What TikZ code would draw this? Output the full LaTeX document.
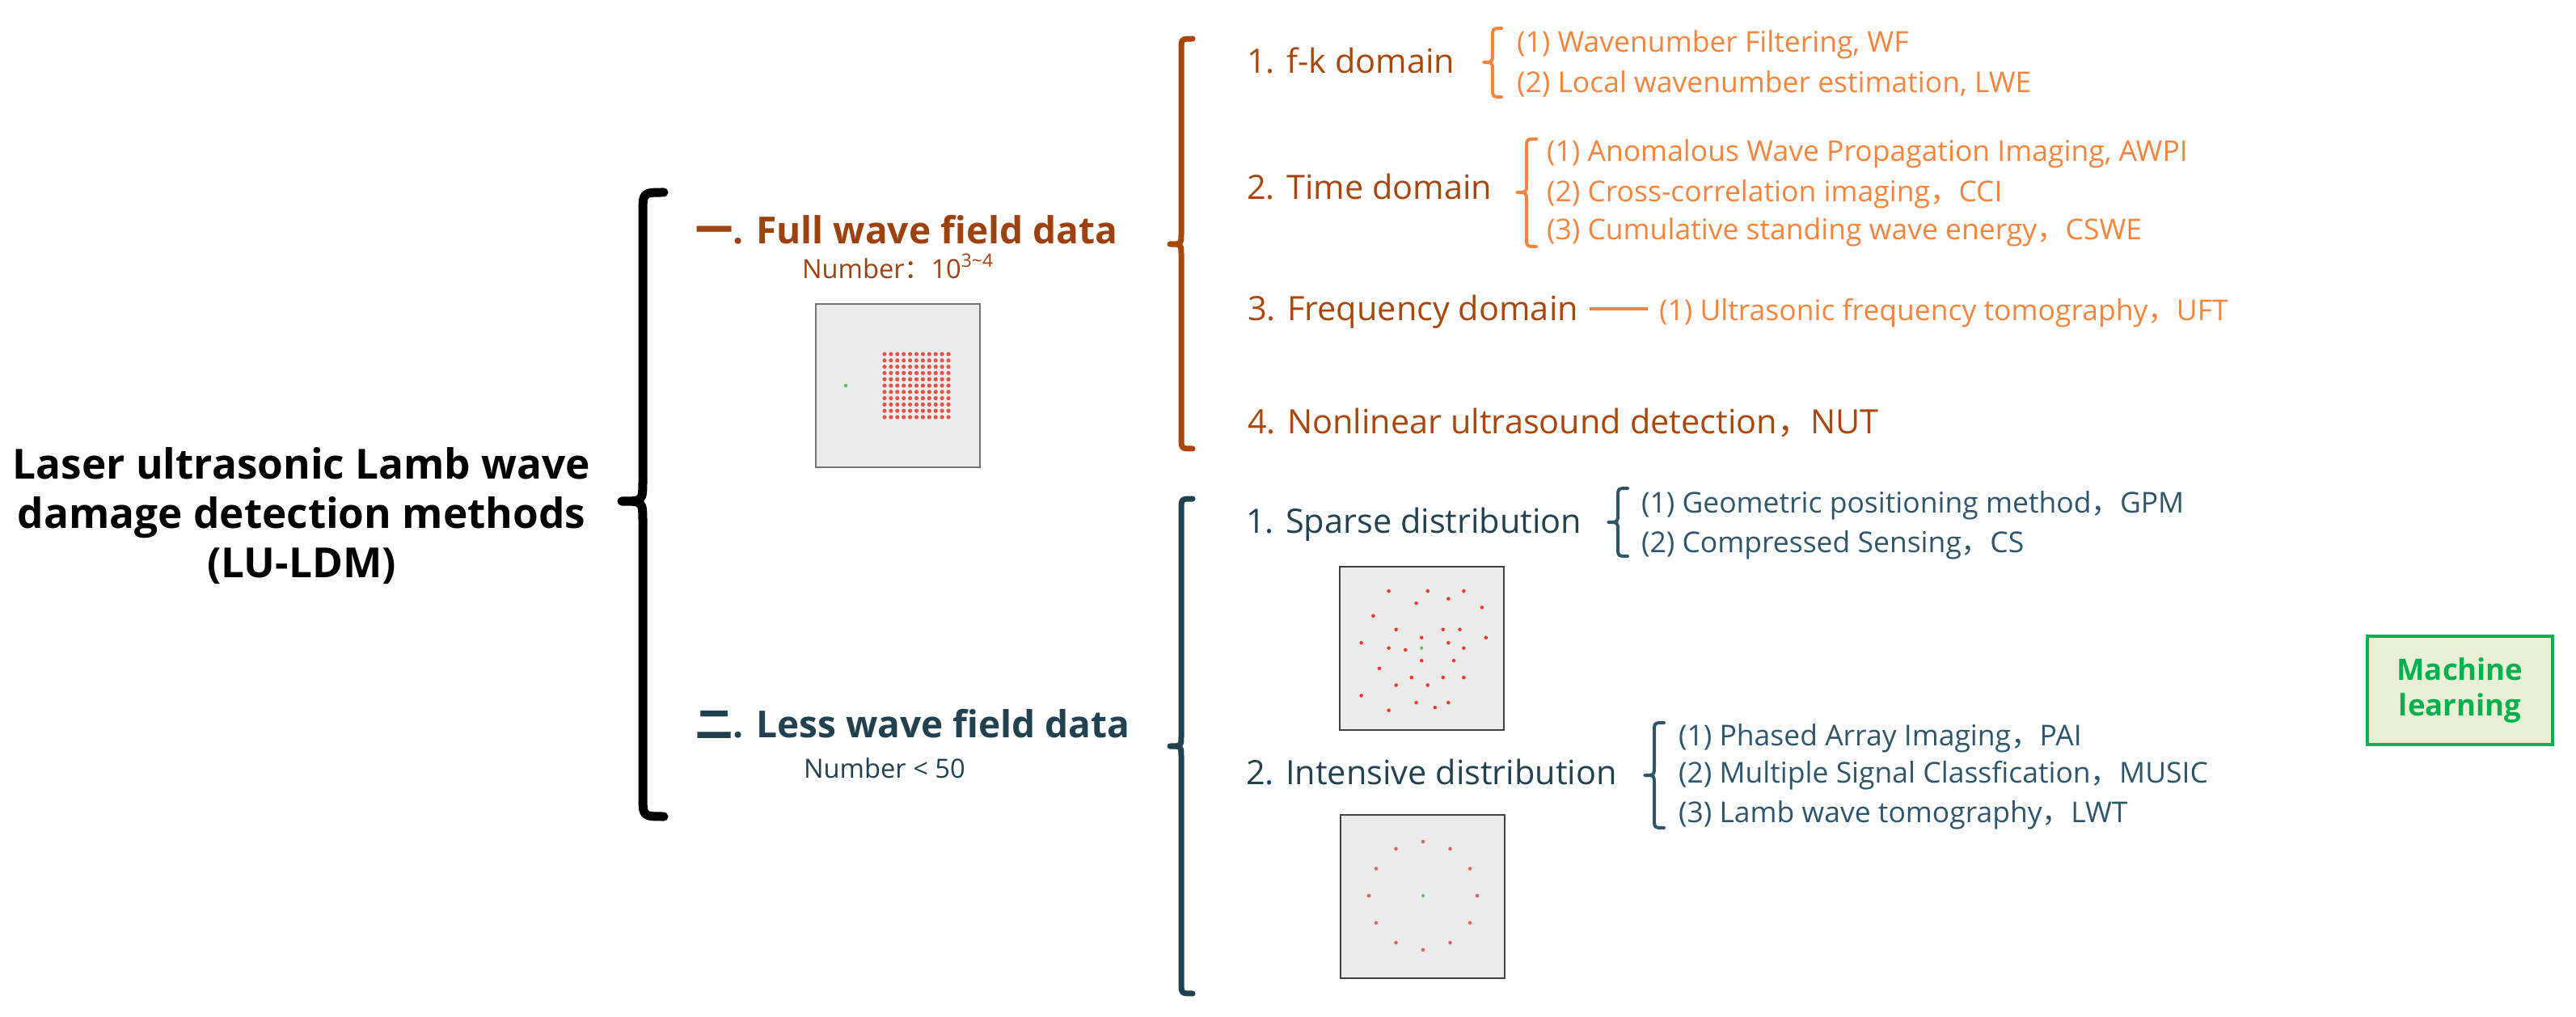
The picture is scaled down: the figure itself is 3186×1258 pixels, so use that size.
\documentclass[tikz,border=0pt]{standalone}
\usepackage{fontspec}
\setmainfont{Open Sans}
\newfontfamily\cjk{Noto Sans CJK SC}
\definecolor{brownT}{HTML}{9C4211}
\definecolor{brownM}{HTML}{A8470C}
\definecolor{orangeL}{HTML}{F4843E}
\definecolor{slateT}{HTML}{22414F}
\definecolor{slateL}{HTML}{2F5568}
\definecolor{mlgreen}{HTML}{00B050}
\definecolor{mlfill}{HTML}{E9F0D4}
\definecolor{imgfill}{HTML}{EBEBEB}
\definecolor{dotred}{HTML}{E8524A}
\definecolor{sparsered}{HTML}{EE3B2C}
\definecolor{ringred}{HTML}{E4605A}
\definecolor{dotgreen}{HTML}{4CC552}
\newcommand\LUbrace[6]{%
  \draw[#1] ({#2+#6},#3) .. controls (#2,#3) .. (#2,{#3+#6}) -- (#2,{#5-#6})
    .. controls (#2,#5) .. ({#2-#6},#5) .. controls (#2,#5) .. (#2,{#5+#6})
    -- (#2,{#4-#6}) .. controls (#2,#4) .. ({#2+#6},#4);}
\begin{document}
\begin{tikzpicture}[x=0.1mm,y=-0.1mm,
  txt/.style={inner sep=0pt, outer sep=0pt, anchor=base west},
  maintitle/.style={txt, anchor=base, font=\fontsize{14.6}{18}\selectfont\bfseries},
  lvlA/.style={txt, font=\fontsize{13.1}{16}\selectfont\bfseries},
  lvlB/.style={txt, font=\fontsize{11.8}{14}\selectfont},
  leaf/.style={txt, font=\fontsize{10.1}{12}\selectfont},
  numtxt/.style={txt, font=\fontsize{9.3}{11}\selectfont},
  bigbrace/.style={line width=1.1mm, line cap=round, line join=round},
  midbrace/.style={line width=0.7mm, line cap=round, line join=round},
  smallbrace/.style={line width=0.4mm, line cap=round, line join=round},
  dashline/.style={orangeL, line width=0.35mm},
  imgbox/.style={draw=#1, fill=imgfill, line width=0.25mm, inner sep=0pt},
  mlbox/.style={draw=mlgreen, fill=mlfill, line width=0.35mm, text=mlgreen,
     align=center, minimum width=22.9mm, minimum height=13.4mm,
     font=\fontsize{10.4}{12.5}\selectfont\bfseries}
]
\useasboundingbox (0,0) rectangle (3186,1258);

% main title
\node[maintitle] (m1) at (373,593) {Laser ultrasonic Lamb wave};
\node[maintitle] (m2) at (373,654) {damage detection methods};
\node[maintitle] (m3) at (373,714) {(LU-LDM)};
\LUbrace{bigbrace,black}{795}{238}{1010}{620}{26}

% level 1
\node[lvlA, text=brownT] (full) at (860,302) {{\cjk 一}. Full wave field data};
\node[numtxt, text=brownT] (n1) at (992,345) {Number{\cjk ：}10\raisebox{0.85ex}{\fontsize{6.5}{7}\selectfont 3\textasciitilde 4}};
\node[lvlA, text=slateT] (less) at (860,912) {{\cjk 二}. Less wave field data};
\node[numtxt, text=slateT] (n2) at (994,962) {Number < 50};

% image 1: full grid
\node[imgbox={black!55}, minimum width=20.3mm, minimum height=20.2mm] (img1) at (1110.5,477) {};
\foreach \i in {0,...,10}
  \foreach \j in {0,...,10}
    \fill[dotred] ({1094+\i*7.9},{438+\j*7.8}) circle (0.26mm);
\fill[dotgreen] (1046,477) circle (0.22mm);

% brace for full wave field
\LUbrace{midbrace,brownM}{1461}{48}{555}{302}{14}

\node[lvlB, text=brownM] (fk) at (1542,91) {1. f-k domain};
\LUbrace{smallbrace,orangeL}{1846}{35}{120}{77}{11}
\node[leaf, text=orangeL] (wf) at (1876,65) {(1) Wavenumber Filtering, WF};
\node[leaf, text=orangeL] (lwe) at (1876,115) {(2) Local wavenumber estimation, LWE};

\node[lvlB, text=brownM] (td) at (1542,247) {2. Time domain};
\LUbrace{smallbrace,orangeL}{1888}{172}{305}{238}{12}
\node[leaf, text=orangeL] (awpi) at (1913,200) {(1) Anomalous Wave Propagation Imaging, AWPI};
\node[leaf, text=orangeL] (cci) at (1913,250) {(2) Cross-correlation imaging{\cjk ，}CCI};
\node[leaf, text=orangeL] (cswe) at (1913,297) {(3) Cumulative standing wave energy{\cjk ，}CSWE};

\node[lvlB, text=brownM] (fd) at (1543,397) {3. Frequency domain};
\node[leaf, text=orangeL] (uft) at (2052,397) {(1) Ultrasonic frequency tomography{\cjk ，}UFT};
\draw[dashline] ([shift={(14,-15)}]fd.base east) -- ([shift={(-14,-15)}]uft.base west);

\node[lvlB, text=brownM] (nut) at (1543,537) {4. Nonlinear ultrasound detection{\cjk ，}NUT};

% brace for less wave field
\LUbrace{midbrace,slateT}{1461}{617}{1229}{923}{14}

\node[lvlB, text=slateT] (sd) at (1541,660) {1. Sparse distribution};
\LUbrace{smallbrace,slateL}{2001}{604}{688}{646}{12}
\node[leaf, text=slateL] (gpm) at (2030,634) {(1) Geometric positioning method{\cjk ，}GPM};
\node[leaf, text=slateL] (cs) at (2030,684) {(2) Compressed Sensing{\cjk ，}CS};

% image 2: sparse
\node[imgbox={black!75}, minimum width=20.3mm, minimum height=20.2mm] (img2) at (1758.5,802) {};
\foreach \p in {(1717.6,731.1),(1765.7,731.1),(1810.4,731.1),(1751.6,746.2),(1791.4,740.6),
  (1832.8,751.4),(1698.5,761.8),(1726.7,778.7),(1784.7,778.7),(1805.5,778.7),(1758.2,788.7),
  (1837.8,788.7),(1683.6,795.2),(1791.4,795.2),(1717.6,801.6),(1738.3,803.8),(1810.4,801.6),
  (1758.2,817.2),(1798.0,817.2),(1706.0,826.8),(1745.8,838.0),(1784.7,838.0),(1810.4,838.0),
  (1726.7,847.5),(1765.7,847.5),(1683.6,860.5),(1751.6,869.2),(1774.8,875.2),(1791.4,869.2),
  (1717.6,878.7)}
  \fill[sparsered] \p circle (0.23mm);
\fill[dotgreen] (1758.2,801.6) circle (0.2mm);

\node[lvlB, text=slateT] (id) at (1541,970) {2. Intensive distribution};
\LUbrace{smallbrace,slateL}{2046}{894}{1024}{959}{12}
\node[leaf, text=slateL] (pai) at (2076,922) {(1) Phased Array Imaging{\cjk ，}PAI};
\node[leaf, text=slateL] (music) at (2076,968) {(2) Multiple Signal Classfication{\cjk ，}MUSIC};
\node[leaf, text=slateL] (lwt) at (2076,1017) {(3) Lamb wave tomography{\cjk ，}LWT};

% image 3: ring
\node[imgbox={black!75}, minimum width=20.3mm, minimum height=20.2mm] (img3) at (1759.5,1109) {};
\foreach \a in {0,30,...,330}
  \fill[ringred] ({1760+67*cos(\a)},{1108+67*sin(\a)}) circle (0.23mm);
\fill[dotgreen] (1760,1108) circle (0.2mm);

% machine learning
\node[mlbox] (ml) at (3042.5,854) {Machine\\learning};
\end{tikzpicture}
\end{document}
